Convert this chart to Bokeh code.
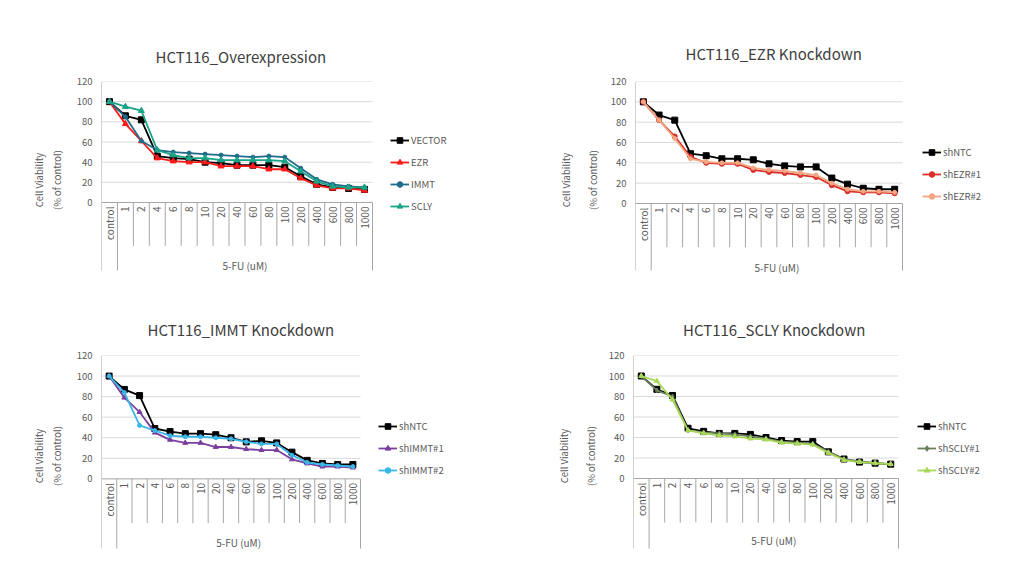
import math
from bokeh.plotting import figure
from bokeh.layouts import column, row
from bokeh.models import FixedTicker, Legend, LegendItem, LinearAxis
from bokeh.core.properties import value
from bokeh.embed import file_html
from bokeh.resources import INLINE

# ---------------- data ----------------
doses = ["control", "1", "2", "4", "6", "8", "10", "20", "40", "60", "80",
         "100", "200", "400", "600", "800", "1000"]
x_group_label = "5-FU (uM)"
y_label_1 = "Cell Viability"
y_label_2 = "(% of control)"
y_ticks = [0, 20, 40, 60, 80, 100, 120]

titles = ["HCT116_Overexpression", "HCT116_EZR Knockdown",
          "HCT116_IMMT Knockdown", "HCT116_SCLY Knockdown"]

# Panel 1 : overexpression
names_1 = ["VECTOR", "EZR", "IMMT", "SCLY"]
vector_1 = [100, 86, 82, 46, 44, 43, 40, 39, 37, 37, 37, 35, 26, 18, 15, 14, 13]
ezr_1 = [100, 78, 61, 44, 41, 40, 40, 36, 36, 36, 33, 33, 24, 17, 14, 14, 12]
immt_1 = [100, 85, 61, 52, 50, 49, 48, 47, 46, 45, 46, 45, 34, 23, 18, 16, 15]
scly_1 = [100, 95, 91, 52, 47, 44, 44, 42, 42, 42, 42, 41, 31, 21, 16, 15, 15]

# Panel 2 : EZR knockdown
names_2 = ["shNTC", "shEZR#1", "shEZR#2"]
shntc_2 = [100, 87, 82, 49, 47, 44, 44, 43, 39, 37, 36, 36, 25, 19, 15, 14, 14]
shezr1_2 = [100, 82, 66, 46, 40, 39, 39, 33, 31, 30, 28, 26, 18, 12, 11, 11, 10]
shezr2_2 = [100, 82, 64, 44, 41, 40, 40, 35, 33, 32, 30, 28, 20, 14, 12, 12, 11]

# Panel 3 : IMMT knockdown
names_3 = ["shNTC", "shIMMT#1", "shIMMT#2"]
shntc_3 = [100, 87, 81, 49, 46, 44, 44, 43, 40, 36, 37, 35, 26, 18, 15, 14, 14]
shimmt1_3 = [100, 79, 65, 45, 38, 35, 35, 31, 31, 29, 28, 28, 19, 15, 12, 12, 11]
shimmt2_3 = [100, 84, 52, 47, 42, 41, 41, 40, 39, 36, 34, 34, 23, 16, 14, 13, 12]

# Panel 4 : SCLY knockdown
names_4 = ["shNTC", "shSCLY#1", "shSCLY#2"]
shntc_4 = [100, 87, 81, 49, 46, 44, 44, 43, 40, 37, 36, 36, 26, 19, 16, 15, 14]
shscly1_4 = [100, 86, 80, 47, 45, 44, 43, 41, 39, 36, 35, 34, 26, 19, 17, 15, 14]
shscly2_4 = [100, 95, 77, 47, 44, 42, 41, 39, 38, 35, 34, 33, 25, 18, 16, 15, 14]

FONT = "Noto Sans CJK KR"
GRAY_TXT = "#595959"
AXIS_GRAY = "#a6a6a6"
ITEM_H = 14
ITEM_GAP = 8


def style_label(ax, text, standoff):
    ax.axis_label = text
    ax.axis_label_text_font = FONT
    ax.axis_label_text_font_size = "9.5px"
    ax.axis_label_text_font_style = "normal"
    ax.axis_label_text_color = GRAY_TXT
    ax.axis_label_standoff = standoff


def make_panel(title, names, series, colors, markers, msizes, geo):
    # geo: layout in page pixels
    n = len(doses)
    width, height = geo["w"], geo["h"]
    left = geo["left"] - geo["x0"]
    top = geo["top"] - geo["y0"]
    plot_w = geo["right"] - geo["left"]
    right = 4
    frame_w = width - left - right
    frame_bottom = geo["line_bottom"] + 8
    bottom = geo["y0"] + height - frame_bottom
    scale = (geo["zero"] - geo["top"]) / 120.0
    ymin = -(frame_bottom - geo["zero"]) / scale
    y_line = -(geo["line_bottom"] - geo["zero"]) / scale
    y_short = -43.0
    x_end = n * frame_w / plot_w

    p = figure(width=width, height=height, x_range=(0, x_end),
               y_range=(ymin, 120),
               output_backend="svg", toolbar_location=None,
               min_border_left=left, min_border_right=right,
               min_border_top=top, min_border_bottom=bottom)
    p.outline_line_color = None
    p.background_fill_color = "white"
    # title
    p.title.text = title
    p.title.align = "left"
    p.title.offset = geo["title_x"] - geo["left"] - geo["title_w"] / 2
    p.title.text_font = FONT
    p.title.text_font_size = "15px"
    p.title.text_font_style = "normal"
    p.title.text_color = "#404040"
    p.title.standoff = geo["title_standoff"]
    # y axis
    p.yaxis.ticker = FixedTicker(ticks=y_ticks)
    p.yaxis.axis_line_color = None
    p.yaxis.major_tick_line_color = None
    p.yaxis.minor_tick_line_color = None
    p.yaxis.major_tick_out = 0
    p.yaxis.major_tick_in = 0
    p.yaxis.major_label_text_font = FONT
    p.yaxis.major_label_text_font_size = "9.5px"
    p.yaxis.major_label_text_color = GRAY_TXT
    p.yaxis.major_label_standoff = 9
    style_label(p.yaxis[0], y_label_2, geo["inner_standoff"])
    ax2 = LinearAxis(ticker=FixedTicker(ticks=[]), axis_line_color=None,
                     major_tick_line_color=None, minor_tick_line_color=None,
                     major_tick_out=0, major_tick_in=0, minor_tick_out=0,
                     major_label_standoff=0)
    style_label(ax2, y_label_1, geo["outer_standoff"])
    p.add_layout(ax2, "left")

    p.xaxis.visible = False
    p.xgrid.visible = False
    p.ygrid.visible = False

    # horizontal grid lines limited to the category span
    gy = y_ticks[1:]
    p.segment(x0=[0] * len(gy), y0=gy, x1=[n] * len(gy), y1=gy,
              line_color="#d9d9d9", line_width=1)
    p.segment(x0=[0], y0=[0], x1=[n], y1=[0], line_color=AXIS_GRAY,
              line_width=1)
    # vertical axis line (from top of value axis to bottom of category box)
    p.segment(x0=[0], y0=[120], x1=[0], y1=[y_line], line_color=AXIS_GRAY,
              line_width=1)

    # category axis drawn below zero
    centers = [i + 0.5 for i in range(n)]
    short_b = list(range(2, n))
    long_b = [1, n]
    p.segment(x0=short_b, y0=[0] * len(short_b), x1=short_b,
              y1=[y_short] * len(short_b), line_color=AXIS_GRAY, line_width=1)
    p.segment(x0=long_b, y0=[0] * 2, x1=long_b, y1=[y_line] * 2,
              line_color=AXIS_GRAY, line_width=1)
    p.text(x=centers, y=[-4] * n, text=doses, angle=math.pi / 2,
           text_align="right", text_baseline="middle",
           text_font=value(FONT), text_font_size="10px", text_color=GRAY_TXT)
    p.text(x=[(1 + n) / 2], y=[-(geo["group_y"] - geo["zero"]) / scale],
           text=[x_group_label],
           text_align="center", text_baseline="middle",
           text_font=value(FONT), text_font_size="10px", text_color=GRAY_TXT)

    items = []
    for name, ys, c, m, ms in zip(names, series, colors, markers, msizes):
        l = p.line(centers, ys, line_color=c, line_width=1.8)
        s = p.scatter(centers, ys, marker=m, size=ms, fill_color=c,
                      line_color=c)
        items.append(LegendItem(label=name, renderers=[l, s]))
    k = len(names)
    leg_h = k * ITEM_H + (k - 1) * ITEM_GAP
    leg_top = geo["leg_y"] - ITEM_H / 2
    vy = frame_bottom - (leg_top + leg_h)
    vx = geo["leg_x"] - geo["left"]
    leg = Legend(items=items, location=(vx, vy),
                 border_line_color=None, background_fill_alpha=0,
                 label_text_font=FONT, label_text_font_size="9.5px",
                 label_text_color=GRAY_TXT, glyph_width=19,
                 glyph_height=ITEM_H, label_height=ITEM_H, spacing=ITEM_GAP,
                 padding=0, margin=0, label_standoff=2)
    p.add_layout(leg, "center")
    return p


geo1 = dict(x0=0, y0=0, w=520, h=290, left=101, right=372, top=81, zero=202,
            line_bottom=270, group_y=265, leg_x=390, leg_y=140,
            title_x=240, title_w=170, title_standoff=30,
            inner_standoff=10, outer_standoff=1)
geo2 = dict(x0=520, y0=0, w=496, h=290, left=635, right=902, top=81,
            zero=203, line_bottom=270, group_y=267, leg_x=922, leg_y=152,
            title_x=773, title_w=176, title_standoff=35,
            inner_standoff=8, outer_standoff=10)
geo3 = dict(x0=0, y0=290, w=520, h=274, left=101, right=360, top=354,
            zero=478, line_bottom=548, group_y=542, leg_x=378, leg_y=426,
            title_x=240, title_w=186, title_standoff=32,
            inner_standoff=10, outer_standoff=1)
geo4 = dict(x0=520, y0=290, w=496, h=274, left=633, right=898, top=355,
            zero=478, line_bottom=548, group_y=540, leg_x=917, leg_y=426,
            title_x=773, title_w=181, title_standoff=32,
            inner_standoff=8, outer_standoff=10)

p1 = make_panel(titles[0], names_1, [vector_1, ezr_1, immt_1, scly_1],
                ["#000000", "#ff1a1a", "#1f6b8a", "#1aa387"],
                ["square", "triangle", "circle", "triangle"], [6, 6, 4, 6],
                geo1)
p2 = make_panel(titles[1], names_2, [shntc_2, shezr1_2, shezr2_2],
                ["#000000", "#d9302a", "#f4a582"],
                ["square", "circle", "circle"], [6, 5, 4], geo2)
p3 = make_panel(titles[2], names_3, [shntc_3, shimmt1_3, shimmt2_3],
                ["#000000", "#7b3fa0", "#3ab7e8"],
                ["square", "triangle", "circle"], [6, 5, 4], geo3)
p4 = make_panel(titles[3], names_4, [shntc_4, shscly1_4, shscly2_4],
                ["#000000", "#6a7f5a", "#a8d85a"],
                ["square", "diamond", "triangle"], [6, 5, 5], geo4)

layout = column(row(p1, p2), row(p3, p4))
open("out.html", "w").write(file_html(layout, INLINE))
